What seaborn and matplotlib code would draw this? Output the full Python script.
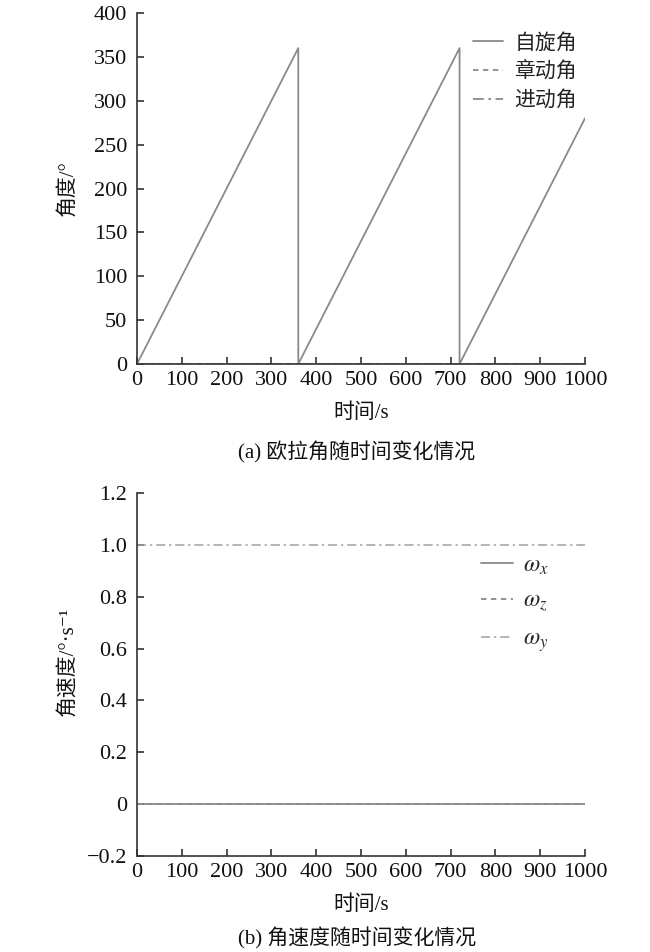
import matplotlib
matplotlib.use("Agg")
import matplotlib.pyplot as plt
import seaborn as sns
import numpy as np

# ---- data ----
time_a = [0, 360, 360, 720, 720, 1000]
spin_angle = [0, 360, 0, 360, 0, 280]
nutation_angle = [0, 0, 0, 0, 0, 0]
precession_angle = [0, 0, 0, 0, 0, 0]

time_b = [0, 1000]
omega_x = [0, 0]
omega_z = [0, 0]
omega_y = [1.0, 1.0]

x_ticks = [0, 100, 200, 300, 400, 500, 600, 700, 800, 900, 1000]
ya_ticks = [0, 50, 100, 150, 200, 250, 300, 350, 400]
yb_ticks = [-0.2, 0, 0.2, 0.4, 0.6, 0.8, 1.0, 1.2]
yb_labels = ["\u22120.2", "0", "0.2", "0.4", "0.6", "0.8", "1.0", "1.2"]

labels_a = ["自旋角", "章动角", "进动角"]
labels_b = [r"$\omega_x$", r"$\omega_z$", r"$\omega_y$"]

sns.set_theme(style="ticks")
plt.rcParams["font.family"] = ["Liberation Serif", "Noto Sans CJK SC", "DejaVu Sans"]
plt.rcParams["mathtext.fontset"] = "stix"
plt.rcParams["axes.unicode_minus"] = True

mixed = ["Liberation Serif", "Noto Sans CJK SC", "DejaVu Sans"]
cjk = ["Noto Sans CJK SC", "Liberation Serif", "DejaVu Sans"]

W, H = 650, 952
fig = plt.figure(figsize=(6.5, 9.52), dpi=100)

def fx(px):
    return px / W

def fy(py):
    return 1 - py / H

ax_a = fig.add_axes([fx(137), fy(364), fx(585) - fx(137), fy(13) - fy(364)])
ax_b = fig.add_axes([fx(137), fy(856), fx(585) - fx(137), fy(493) - fy(856)])

line_color = "#8a8a8a"
dash = (0, (3.0, 2.5))
dashdot = (0, (6, 2.5, 1.5, 2.5))

kw = dict(estimator=None, sort=False, color=line_color, linewidth=1.3)
sns.lineplot(x=time_a, y=spin_angle, ax=ax_a, label=labels_a[0], linestyle="-", **kw)
sns.lineplot(x=time_a, y=nutation_angle, ax=ax_a, label=labels_a[1], linestyle=dash, **kw)
sns.lineplot(x=time_a, y=precession_angle, ax=ax_a, label=labels_a[2], linestyle=dashdot, **kw)

sns.lineplot(x=time_b, y=omega_x, ax=ax_b, label=labels_b[0], linestyle="-", **kw)
sns.lineplot(x=time_b, y=omega_z, ax=ax_b, label=labels_b[1], linestyle=dash, **kw)
sns.lineplot(x=time_b, y=omega_y, ax=ax_b, label=labels_b[2], linestyle=dashdot,
             **{**kw, "color": "#a0a0a0", "linewidth": 1.1})

for ax in (ax_a, ax_b):
    ax.set_xlim(0, 1000)
    ax.set_xticks(x_ticks)
    ax.set_xticklabels([str(v) for v in x_ticks])
    ax.tick_params(direction="in", length=5, width=1.1, colors="#222222",
                   labelsize=16, labelcolor="#111111")
    ax.tick_params(axis="x", pad=5)
    ax.tick_params(axis="y", pad=7)
    for s in ("top", "right"):
        ax.spines[s].set_visible(False)
    for s in ("left", "bottom"):
        ax.spines[s].set_color("#333333")
        ax.spines[s].set_linewidth(1.2)
    ax.set_xlabel("")
    ax.set_ylabel("")
    for t in ax.get_xticklabels() + ax.get_yticklabels():
        t.set_fontfamily("Liberation Serif")

ax_a.set_ylim(0, 400)
ax_a.set_yticks(ya_ticks)
ax_a.set_yticklabels([str(v) for v in ya_ticks], fontfamily="Liberation Serif")
ax_b.set_ylim(-0.2, 1.2)
ax_b.set_yticks(yb_ticks)
ax_b.set_yticklabels(yb_labels, fontfamily="Liberation Serif")

leg_a = ax_a.legend(loc="upper left", bbox_to_anchor=(fx(456), fy(15)),
                    bbox_transform=fig.transFigure, frameon=False,
                    handlelength=1.45, handletextpad=0.55, labelspacing=0.32,
                    borderpad=0.3, prop={"family": cjk, "size": 15})
for t in leg_a.get_texts():
    t.set_color("#222222")
leg_b = ax_b.legend(loc="upper left", bbox_to_anchor=(fx(462), fy(536)),
                    bbox_transform=fig.transFigure, frameon=False,
                    handlelength=1.35, handletextpad=0.45, labelspacing=0.6,
                    borderpad=0.3, prop={"family": mixed, "size": 17})

txt_color = "#111111"
fs = 15
fig.text(fx(361), fy(413), "时间/s", ha="center", va="center", fontsize=fs,
         family=mixed, color=txt_color)
fig.text(fx(357), fy(452), "(a) 欧拉角随时间变化情况", ha="center", va="center",
         fontsize=fs, family=mixed, color=txt_color)
fig.text(fx(361), fy(905), "时间/s", ha="center", va="center", fontsize=fs,
         family=mixed, color=txt_color)
fig.text(fx(357), fy(938), "(b) 角速度随时间变化情况", ha="center", va="center",
         fontsize=fs, family=mixed, color=txt_color)
fig.text(fx(68), fy(188), "角度/°", ha="center", va="center", rotation=90,
         fontsize=fs, family=mixed, color=txt_color)
fig.text(fx(68), fy(662), "角速度/°·s\u207b\u00b9", ha="center", va="center", rotation=90,
         fontsize=fs, family=mixed, color=txt_color)

fig.savefig("out.png", dpi=100)
